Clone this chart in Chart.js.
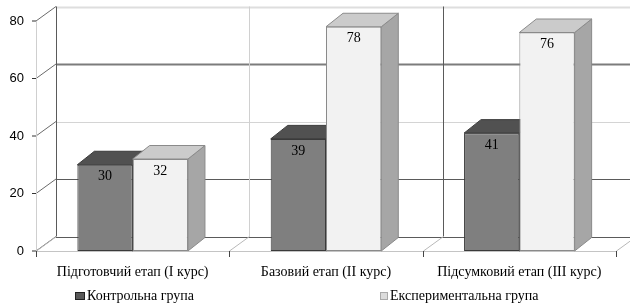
<!DOCTYPE html>
<html>
<head>
<meta charset="utf-8">
<script src="https://cdn.jsdelivr.net/npm/chart.js@4.4.1/dist/chart.umd.min.js"></script>
<style>
  html, body { margin: 0; padding: 0; background: #fff; }
  #wrap { width: 630px; height: 303px; position: relative; }
</style>
</head>
<body>
<div id="wrap"><canvas id="chart"></canvas></div>
<script>
// data
const stages = ["Підготовчий етап (І курс)", "Базовий етап (ІІ курс)", "Підсумковий етап (ІІІ курс)"];
const controlGroup = [30, 39, 41];
const experimentalGroup = [32, 78, 76];
const seriesNames = ["Контрольна група", "Експериментальна група"];
const yTicks = [0, 20, 40, 60, 80];

// look of the fake 3D
const wallDx = 20, wallDy = -14.5;   // back wall offset
const barDx = 17, barDy = -13.5;     // bar depth
const frontColors = ["#7f7f7f", "#f2f2f2"];
const topColors = ["#515151", "#cbcbcb"];
const sideColors = ["#5e5e5e", "#a6a6a6"];
const edgeColors = ["#3a3a3a", "#8a8a8a"];
const legendBoxes = ["#595959", "#dcdcdc"];
const wallGrid = { 0: ["#5a5a5a", 1], 20: ["#5a5a5a", 1], 40: ["#d4d4d4", 1], 60: ["#7c7c7c", 2], 80: ["#dedede", 2] };
const wallVert = ["#5a5a5a", "#d0d0d0", "#5a5a5a", "#5a5a5a"];

function line(ctx, x1, y1, x2, y2, color, w) {
  ctx.save();
  ctx.strokeStyle = color;
  ctx.lineWidth = w || 1;
  ctx.beginPath();
  ctx.moveTo(x1, y1);
  ctx.lineTo(x2, y2);
  ctx.stroke();
  ctx.restore();
}

function poly(ctx, pts, fill, stroke) {
  ctx.beginPath();
  ctx.moveTo(pts[0][0], pts[0][1]);
  for (let i = 1; i < pts.length; i++) ctx.lineTo(pts[i][0], pts[i][1]);
  ctx.closePath();
  ctx.fillStyle = fill;
  ctx.fill();
  ctx.strokeStyle = stroke;
  ctx.lineWidth = 1;
  ctx.stroke();
}

const fake3d = {
  id: "fake3d",
  beforeDatasetsDraw(chart) {
    const { ctx, chartArea: a, scales: { x, y } } = chart;
    const W = ctx.canvas.width + 20;
    const y0 = y.getPixelForValue(0);
    const yTop = y.getPixelForValue(80);
    const cw = (a.right - a.left) / stages.length;

    ctx.save();
    ctx.beginPath();
    ctx.rect(0, 0, ctx.canvas.width, ctx.canvas.height);
    ctx.clip();

    // back wall horizontal grid
    yTicks.forEach(v => {
      const py = Math.round(y.getPixelForValue(v) + wallDy) + 0.5;
      const g = wallGrid[v];
      line(ctx, a.left + wallDx, py, W, py, g[0], g[1]);
    });
    // back wall verticals
    for (let i = 0; i <= stages.length; i++) {
      const px = Math.round(a.left + wallDx + i * cw) + 0.5;
      line(ctx, px, y0 + wallDy, px, yTop + wallDy, wallVert[i], 1);
    }
    // side wall diagonals + front ticks
    yTicks.forEach(v => {
      const py = y.getPixelForValue(v);
      line(ctx, a.left, py, a.left + wallDx, py + wallDy, "#6a6a6a", 1);
      line(ctx, a.left - 4, py, a.left, py, "#333", 1);
    });
    // front vertical axis
    line(ctx, a.left + 0.5, y0, a.left + 0.5, yTop, "#cfcfcf", 1);
    // floor
    line(ctx, a.left, y0 + 0.5, a.right, y0 + 0.5, "#c4c4c4", 1);
    for (let i = 0; i <= stages.length; i++) {
      const px = Math.round(a.left + i * cw) + 0.5;
      line(ctx, px, y0, px + wallDx, y0 + wallDy, "#b8b8b8", 1);
      line(ctx, px, y0, px, y0 + 6, "#444", 1);
    }

    // top and side faces of the bars
    chart.data.datasets.forEach((ds, di) => {
      chart.getDatasetMeta(di).data.forEach(bar => {
        const l = bar.x - bar.width / 2, r = bar.x + bar.width / 2;
        const t = bar.y, b = bar.base;
        poly(ctx, [[r, t], [r + barDx, t + barDy], [r + barDx, b + barDy], [r, b]], sideColors[di], edgeColors[di]);
        poly(ctx, [[l, t], [r, t], [r + barDx, t + barDy], [l + barDx, t + barDy]], topColors[di], edgeColors[di]);
      });
    });
    ctx.restore();
  },
  afterDatasetsDraw(chart) {
    const { ctx } = chart;
    ctx.save();
    ctx.font = "14px 'Liberation Serif', serif";
    ctx.fillStyle = "#000";
    ctx.textAlign = "center";
    ctx.textBaseline = "middle";
    chart.data.datasets.forEach((ds, di) => {
      chart.getDatasetMeta(di).data.forEach((bar, i) => {
        ctx.fillText(String(ds.data[i]), bar.x, bar.y + 12);
      });
    });
    ctx.restore();
  },
  afterDraw(chart) {
    const { ctx } = chart;
    const items = [
      { x: 75, w: 10, h: 8 },
      { x: 380, w: 8, h: 8 }
    ];
    ctx.save();
    ctx.font = "14px 'Liberation Serif', serif";
    ctx.textBaseline = "middle";
    ctx.textAlign = "left";
    chart.data.datasets.forEach((ds, di) => {
      const it = items[di];
      const cy = 296;
      ctx.fillStyle = legendBoxes[di];
      ctx.fillRect(it.x, cy - it.h / 2, it.w, it.h);
      ctx.strokeStyle = di === 0 ? "#222" : "#aaa";
      ctx.lineWidth = 1;
      ctx.strokeRect(it.x + 0.5, cy - it.h / 2 + 0.5, it.w - 1, it.h - 1);
      ctx.fillStyle = "#000";
      ctx.fillText(ds.label, it.x + it.w + 2, cy);
    });
    ctx.restore();
  }
};

new Chart(document.getElementById("chart"), {
  type: "bar",
  data: {
    labels: stages,
    datasets: [
      {
        label: seriesNames[0],
        data: controlGroup,
        backgroundColor: frontColors[0],
        borderColor: edgeColors[0],
        borderWidth: 1,
        borderSkipped: false
      },
      {
        label: seriesNames[1],
        data: experimentalGroup,
        backgroundColor: frontColors[1],
        borderColor: edgeColors[1],
        borderWidth: 1,
        borderSkipped: false
      }
    ]
  },
  options: {
    responsive: true,
    maintainAspectRatio: false,
    animation: false,
    datasets: { bar: { categoryPercentage: 0.572, barPercentage: 1 } },
    layout: { padding: { top: 21, right: 14, left: 0, bottom: 0 } },
    plugins: { legend: { display: false }, tooltip: { enabled: false } },
    scales: {
      x: {
        grid: { display: false, drawTicks: false },
        border: { display: false },
        ticks: { color: "#000", padding: 13, font: { family: "'Liberation Serif', serif", size: 14 }, maxRotation: 0 },
        afterFit: s => { s.height = 52; }
      },
      y: {
        min: 0,
        max: 80,
        grid: { display: false, drawTicks: false },
        border: { display: false },
        ticks: { stepSize: 20, color: "#000", padding: 12, font: { family: "'Liberation Sans', sans-serif", size: 13 } },
        afterFit: s => { s.width = 36; }
      }
    }
  },
  plugins: [fake3d]
});
</script>
</body>
</html>
